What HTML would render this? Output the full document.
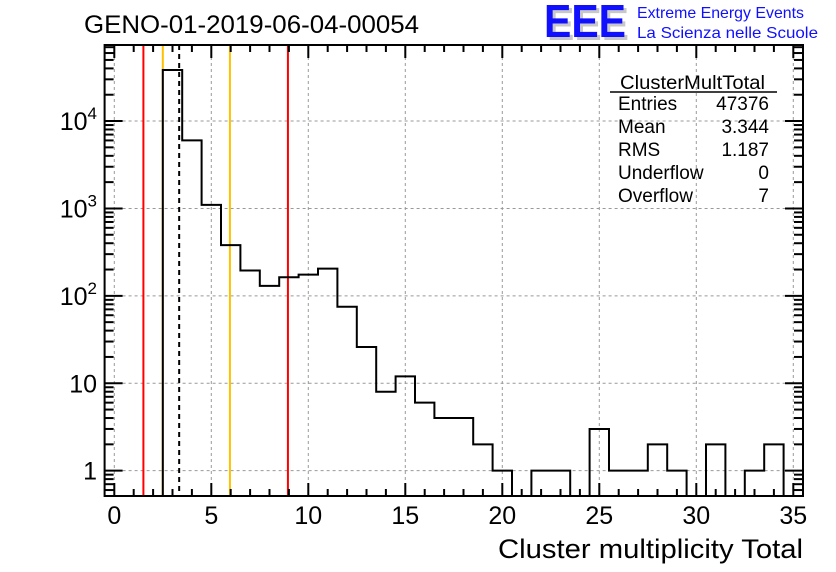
<!DOCTYPE html>
<html><head><meta charset="utf-8"><style>
body{margin:0;background:#fff;}
svg{display:block;font-family:"Liberation Sans",sans-serif;}
</style></head><body>
<svg id="c" width="836" height="572" viewBox="0 0 836 572" xmlns="http://www.w3.org/2000/svg">
<text x="84" y="33" font-size="25" textLength="335" lengthAdjust="spacingAndGlyphs">GENO-01-2019-06-04-00054</text>
<g>
<text x="547" y="40" font-size="46" font-weight="bold" fill="#c8c8c8" textLength="82" lengthAdjust="spacingAndGlyphs">EEE</text>
<text x="544" y="37" font-size="46" font-weight="bold" fill="#1010ff" textLength="82" lengthAdjust="spacingAndGlyphs">EEE</text>
<text x="637" y="18" font-size="16" fill="#1010ff" textLength="167" lengthAdjust="spacingAndGlyphs">Extreme Energy Events</text>
<text x="637" y="38" font-size="16" fill="#1010ff" textLength="181" lengthAdjust="spacingAndGlyphs">La Scienza nelle Scuole</text>
</g>
<g id="grid"></g>
<g id="marks"></g>
<g id="axes"></g>
<g font-size="19">
<text x="620" y="89" textLength="145" lengthAdjust="spacingAndGlyphs">ClusterMultTotal</text>
<line x1="610" y1="92" x2="777" y2="92" stroke="#000" stroke-width="1.5"/>
<text x="618" y="110">Entries</text><text x="769" y="110" text-anchor="end">47376</text>
<text x="618" y="133">Mean</text><text x="769" y="133" text-anchor="end">3.344</text>
<text x="618" y="156">RMS</text><text x="769" y="156" text-anchor="end">1.187</text>
<text x="618" y="179">Underflow</text><text x="769" y="179" text-anchor="end">0</text>
<text x="618" y="202">Overflow</text><text x="769" y="202" text-anchor="end">7</text>
</g>
<text x="803" y="558" font-size="27" text-anchor="end" textLength="305" lengthAdjust="spacingAndGlyphs">Cluster multiplicity Total</text>
</svg>
<script>
const binCenters=[0,1,2,3,4,5,6,7,8,9,10,11,12,13,14,15,16,17,18,19,20,21,22,23,24,25,26,27,28,29,30,31,32,33,34,35];
const counts=[0,0,0,38400,6000,1100,380,195,130,163,175,205,75,26,8,12,6,4,4,2,1,0,1,1,0,3,1,1,2,1,0,2,0,1,2,0];
const xTicks=[0,5,10,15,20,25,30,35];
const yTickVals=[1,10,100,1000,10000];
const yTickLabels=["1","10","10^2","10^3","10^4"];
const vlineVals=[1.5,2.5,3.344,5.96,8.95];
const vlineColors=["#ff0000","#ffc000","#000","#ffc000","#ff0000"];
const X0=104.6,X1=803,Y0=496,Y1=45,XMIN=-0.5,XMAX=35.5,LMIN=-0.29,LMAX=4.87;
const NS="http://www.w3.org/2000/svg";
const sx=v=>X0+(v-XMIN)/(XMAX-XMIN)*(X1-X0);
const sy=v=>v<=0?Y0:Math.min(Y0,Y0-(Math.log10(v)-LMIN)/(LMAX-LMIN)*(Y0-Y1));
function mk(tag,at,par){const e=document.createElementNS(NS,tag);for(const k in at)e.setAttribute(k,at[k]);document.getElementById(par).appendChild(e);return e;}
xTicks.forEach(t=>{const l=mk('line',{x1:sx(t),x2:sx(t),y1:Y1,y2:Y0,stroke:'#999','stroke-dasharray':'3,3'},'grid');

});
yTickVals.forEach(t=>{const l=mk('line',{x1:X0,x2:X1,y1:sy(t),y2:sy(t),stroke:'#999','stroke-dasharray':'3,3'},'grid');

});
vlineVals.forEach((v,i)=>{const l=mk('line',{x1:sx(v),x2:sx(v),y1:Y1,y2:Y0,stroke:vlineColors[i],'stroke-width':2},'marks');
if(i===2)l.setAttribute('stroke-dasharray','5,4');

});
let d='';
binCenters.forEach((c,i)=>{if(c+0.5>XMAX)return;const y=sy(counts[i]);d+=(i===0?`M${sx(c-0.5)},${y}`:`L${sx(c-0.5)},${y}`)+`L${sx(c+0.5)},${y}`;});
d+=`L${sx(XMAX)},${Y0}`;
const h=mk('path',{d:d,fill:'none',stroke:'#000','stroke-width':2},'marks');


const f=mk('rect',{x:X0,y:Y1,width:X1-X0,height:Y0-Y1,fill:'none',stroke:'#000','stroke-width':2},'axes');


for(let v=0;v<=35;v++){const L=v%5===0?13:7;
mk('line',{x1:sx(v),x2:sx(v),y1:Y0,y2:Y0-L,stroke:'#000','stroke-width':2},'axes');
mk('line',{x1:sx(v),x2:sx(v),y1:Y1,y2:Y1+L,stroke:'#000','stroke-width':2},'axes');}
xTicks.forEach(t=>{const tx=mk('text',{x:sx(t),y:524,'font-size':25,'text-anchor':'middle'},'axes');tx.textContent=t;

});
for(let e=-1;e<=4;e++)for(let m=1;m<=9;m++){const v=m*Math.pow(10,e);const y=sy(v);if(y>Y0||y<Y1)continue;const L=m===1?18:9;
mk('line',{x1:X0,x2:X0+L,y1:y,y2:y,stroke:'#000','stroke-width':2},'axes');
mk('line',{x1:X1,x2:X1-L,y1:y,y2:y,stroke:'#000','stroke-width':2},'axes');}
yTickVals.forEach((t,i)=>{const y=sy(t);const tx=mk('text',{x:97,y:y+9,'font-size':25,'text-anchor':'end'},'axes');
const p=yTickLabels[i].split('^');
tx.textContent=p[0];
if(p.length>1){const s=document.createElementNS(NS,'tspan');s.setAttribute('dy',-11);s.setAttribute('font-size',17);s.textContent=p[1];tx.appendChild(s);}

});
</script>
</body></html>
